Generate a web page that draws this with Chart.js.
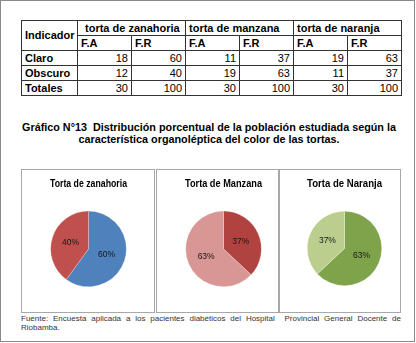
<!DOCTYPE html>
<html>
<head>
<meta charset="utf-8">
<script src="https://cdn.jsdelivr.net/npm/chart.js@4.4.0/dist/chart.umd.min.js"></script>
<style>
  html, body { margin: 0; padding: 0; background: #fff; }
  body { width: 416px; height: 343px; position: relative; overflow: hidden; font-family: "Liberation Sans", Arial, sans-serif; }
  #frame { position: absolute; left: 0; top: 0; width: 413px; height: 340px; border: 1.5px solid #8a8a8a; }
  #tabla { position: absolute; left: 21px; top: 20px; border-collapse: collapse; table-layout: fixed; width: 380px; font-size: 11px; color: #000; }
  #tabla td { border: 1px solid #333; height: 14px; padding: 0 3px; line-height: 13px; white-space: nowrap; overflow: hidden; }
  #tabla td.num { text-align: right; }
  #tabla td.b { font-weight: bold; }
  #titulo { position: absolute; left: 0; top: 121px; width: 418px; text-align: center; font-weight: bold; font-size: 10.8px; line-height: 12px; color: #000; }
  .panel { position: absolute; top: 169px; height: 144px; box-sizing: border-box; border: 1px solid #a8a8a8; }
  .panel canvas { position: absolute; left: 0; top: 0; }
  #fuente { position: absolute; left: 21px; top: 314px; width: 380px; font-size: 8px; line-height: 9px; color: #333; text-align: justify; text-align-last: left; }
</style>
</head>
<body>
<div id="frame"></div>
<table id="tabla"></table>
<div id="titulo">Gráfico N°13&nbsp; Distribución porcentual de la población estudiada según la<br>característica organoléptica del color de las tortas.</div>
<div class="panel" style="left:21px;width:134px"><canvas id="pie0" width="132" height="142"></canvas></div>
<div class="panel" style="left:156px;width:123px"><canvas id="pie1" width="121" height="142"></canvas></div>
<div class="panel" style="left:279px;width:122px"><canvas id="pie2" width="120" height="142"></canvas></div>
<div id="fuente">Fuente: Encuesta aplicada a los pacientes diabéticos del Hospital&nbsp; Provincial General Docente de Riobamba.</div>
<script>
var cakeNames = ['torta de zanahoria', 'torta de manzana', 'torta de naranja'];
var pieTitles = ['Torta de zanahoria', 'Torta de Manzana', 'Torta de Naranja'];
var subHeads = ['F.A', 'F.R'];
var rowLabels = ['Claro', 'Obscuro', 'Totales'];
var claroFA = [18, 11, 19];
var claroFR = [60, 37, 63];
var obscuroFA = [12, 19, 11];
var obscuroFR = [40, 63, 37];
var totalFA = [30, 30, 30];
var totalFR = [100, 100, 100];

function buildTable() {
    var t = document.getElementById('tabla');
    var html = '<colgroup><col style="width:56px">';
    for (var i = 0; i < 6; i++) html += '<col style="width:54px">';
    html += '</colgroup>';
    html += '<tr><td class="b" rowspan="2">Indicador</td>';
    for (var i = 0; i < cakeNames.length; i++) {
        html += '<td class="b" colspan="2"' + (i == 0 ? ' style="padding-left:7px"' : '') + '>' + cakeNames[i] + '</td>';
    }
    html += '</tr><tr>';
    for (var i = 0; i < cakeNames.length; i++) {
        html += '<td class="b">' + subHeads[0] + '</td><td class="b">' + subHeads[1] + '</td>';
    }
    html += '</tr>';
    var rows = [[claroFA, claroFR], [obscuroFA, obscuroFR], [totalFA, totalFR]];
    for (var r = 0; r < rows.length; r++) {
        html += '<tr><td class="b">' + rowLabels[r] + '</td>';
        for (var i = 0; i < cakeNames.length; i++) {
            html += '<td class="num">' + rows[r][0][i] + '</td><td class="num">' + rows[r][1][i] + '</td>';
        }
        html += '</tr>';
    }
    t.innerHTML = html;
}

// percent labels in the middle of each slice
var pctLabels = {
    id: 'pctLabels',
    afterDatasetsDraw: function (chart) {
        var ctx = chart.ctx;
        var data = chart.data.datasets[0].data;
        chart.getDatasetMeta(0).data.forEach(function (arc, i) {
            var p = arc.tooltipPosition();
            ctx.save();
            ctx.font = '8.5px "Liberation Sans", Arial, sans-serif';
            ctx.fillStyle = '#161616';
            ctx.textAlign = 'center';
            ctx.textBaseline = 'middle';
            ctx.fillText(data[i] + '%', p.x, p.y);
            ctx.restore();
        });
    }
};

function makePie(i, colors, pad) {
    var canvas = document.getElementById('pie' + i);
    return new Chart(canvas, {
        type: 'pie',
        data: {
            labels: ['Claro', 'Obscuro'],
            datasets: [{
                data: [claroFR[i], obscuroFR[i]],
                backgroundColor: colors,
                borderColor: 'rgba(255,255,255,0.5)',
                borderWidth: 0.5
            }]
        },
        options: {
            responsive: false,
            animation: false,
            devicePixelRatio: 1,
            layout: { padding: pad },
            plugins: {
                legend: { display: false },
                tooltip: { enabled: false },
                title: {
                    display: true,
                    text: pieTitles[i],
                    color: '#000',
                    font: { family: 'Arial, "Liberation Sans", sans-serif', size: 11.5, weight: 700, lineHeight: 1.2 },
                    padding: { top: 7, bottom: 20 }
                }
            }
        },
        plugins: [pctLabels]
    });
}

function initEvents() {
    buildTable();
    makePie(0, ['#4F81BD', '#C0504D'], { left: 28, right: 27, top: 0, bottom: 25 });
    makePie(1, ['#B0423F', '#D89694'], { left: 28, right: 16, top: 0, bottom: 25 });
    makePie(2, ['#7FA34A', '#BACF8D'], { left: 27, right: 18, top: 0, bottom: 26 });
}

document.addEventListener('DOMContentLoaded', initEvents);
</script>
</body>
</html>
